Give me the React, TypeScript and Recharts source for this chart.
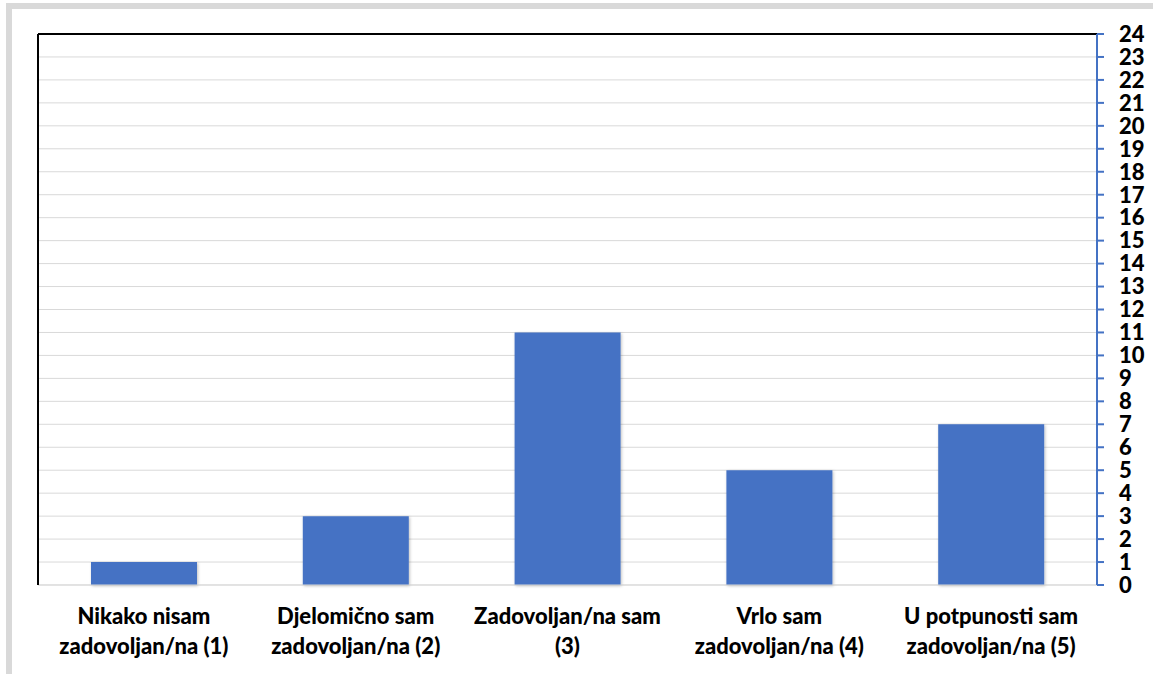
import { BarChart, Bar, XAxis, YAxis, CartesianGrid } from "recharts";

const categories = [
  "Nikako nisam zadovoljan/na (1)",
  "Djelomično sam zadovoljan/na (2)",
  "Zadovoljan/na sam (3)",
  "Vrlo sam zadovoljan/na (4)",
  "U potpunosti sam zadovoljan/na (5)",
];
const labelLines = [
  ["Nikako nisam", "zadovoljan/na (1)"],
  ["Djelomično sam", "zadovoljan/na (2)"],
  ["Zadovoljan/na sam", "(3)"],
  ["Vrlo sam", "zadovoljan/na (4)"],
  ["U potpunosti sam", "zadovoljan/na (5)"],
];
const counts = [1, 3, 11, 5, 7];
const yTicks = Array.from({ length: 25 }, (_, i) => i);

const data = categories.map((name, i) => ({ name, value: counts[i] }));

const FONT = "Lato, 'Open Sans', sans-serif";

function CategoryTick(props: any) {
  const { x, y, index } = props;
  const lines = labelLines[index] || [];
  return (
    <text x={x} y={y} textAnchor="middle" fontFamily={FONT} fontWeight={900} fontSize={22} fill="#000">
      {lines.map((l, i) => (
        <tspan key={i} x={x} dy={i === 0 ? 31 : 30}>
          {l}
        </tspan>
      ))}
    </text>
  );
}

export default function App() {
  return (
    <div style={{ position: "absolute", left: 0, top: 0, width: 1153, height: 674, overflow: "hidden", background: "#fff" }}>
      <div
        style={{
          position: "absolute",
          left: 6,
          top: 3,
          width: 1200,
          height: 720,
          border: "6px solid #d9d9d9",
        }}
      />
      <div style={{ position: "absolute", left: 0, top: 0 }}>
        <BarChart width={1153} height={674} data={data} margin={{ top: 33, right: 0, bottom: 0, left: 37 }}>
          <defs>
            <filter id="barShadow" x="-10%" y="-10%" width="130%" height="130%">
              <feDropShadow dx="1" dy="1" stdDeviation="1.5" floodColor="#000" floodOpacity="0.25" />
            </filter>
          </defs>
          <CartesianGrid vertical={false} stroke="#d9d9d9" strokeWidth={1} xAxisId="bottom" yAxisId="right" />
          <XAxis
            dataKey="name"
            xAxisId="bottom"
            height={89}
            axisLine={{ stroke: "#d9d9d9" }}
            tickLine={false}
            tick={<CategoryTick />}
            interval={0}
          />
          <XAxis xAxisId="top" orientation="top" height={1} tick={false} tickLine={false} axisLine={{ stroke: "#000", strokeWidth: 2 }} dataKey="name" />
          <YAxis yAxisId="left" orientation="left" width={1} tick={false} tickLine={false} axisLine={{ stroke: "#000", strokeWidth: 2 }} domain={[0, 24]} />
          <YAxis
            yAxisId="right"
            orientation="right"
            width={56}
            domain={[0, 24]}
            ticks={yTicks}
            interval={0}
            axisLine={{ stroke: "#4472C4", strokeWidth: 2 }}
            tickLine={{ stroke: "#4472C4", strokeWidth: 2 }}
            tickSize={7}
            tickMargin={15}
            tick={{ fill: "#000", fontSize: 22, fontWeight: 900, fontFamily: FONT }}
          />
          <Bar
            dataKey="value"
            xAxisId="bottom"
            yAxisId="right"
            fill="#4472C4"
            barSize={106}
            filter="url(#barShadow)"
            isAnimationActive={false}
          />
        </BarChart>
      </div>
    </div>
  );
}
